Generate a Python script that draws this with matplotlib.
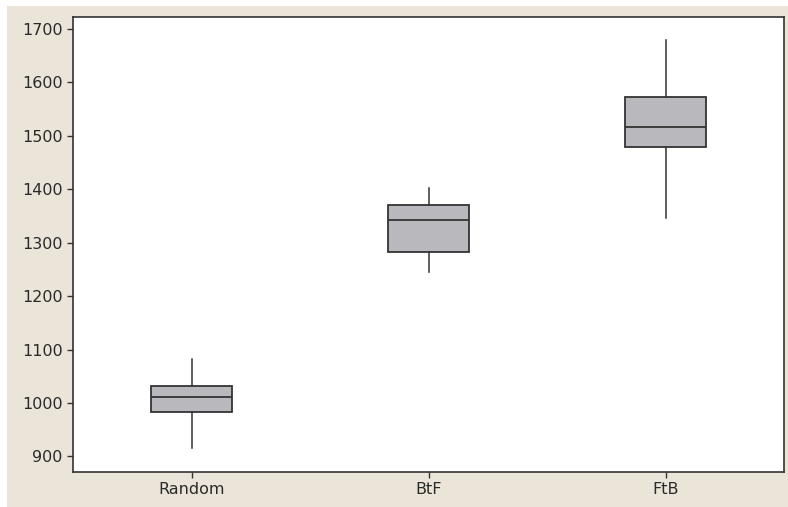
import matplotlib
matplotlib.use("Agg")
import matplotlib.pyplot as plt
from matplotlib.patches import Rectangle

categories = ["Random", "BtF", "FtB"]
whisker_low = [916, 1246, 1347]
q1 = [984, 1283, 1478]
median = [1011, 1342, 1517]
q3 = [1032, 1371, 1573]
whisker_high = [1083, 1402, 1679]
yticks = [900, 1000, 1100, 1200, 1300, 1400, 1500, 1600, 1700]

W, H = 788, 507
fig = plt.figure(figsize=(W / 100, H / 100), dpi=100, facecolor="white")
fig.patches.append(Rectangle((7 / W, 0), 1 - 7 / W, 1 - 6 / H, transform=fig.transFigure,
                             facecolor="#EBE5D9", edgecolor="none", zorder=-10))

ax = fig.add_axes([73 / W, 1 - 472 / H, (784 - 73) / W, (472 - 16.5) / H])
ax.set_facecolor("white")

stats = []
for i, c in enumerate(categories):
    stats.append(dict(label=c, whislo=whisker_low[i], q1=q1[i], med=median[i],
                      q3=q3[i], whishi=whisker_high[i], fliers=[]))

ax.bxp(stats, positions=[1, 2, 3], widths=0.34, patch_artist=True, showcaps=False,
       boxprops=dict(facecolor="#B9B9BD", edgecolor="#333333", linewidth=1.3),
       medianprops=dict(color="#333333", linewidth=1.3),
       whiskerprops=dict(color="#333333", linewidth=1.1))

ax.set_xlim(0.5, 3.5)
ax.set_ylim(871, 1723)
ax.set_yticks(yticks)
ax.set_yticklabels([str(t) for t in yticks])
for s in ax.spines.values():
    s.set_color("#333333")
    s.set_linewidth(1.2)
ax.tick_params(axis="both", colors="#333333", labelcolor="#2a2a2a", labelsize=11.5,
               length=4, width=1)
for lbl in ax.get_xticklabels() + ax.get_yticklabels():
    lbl.set_fontfamily("DejaVu Sans")

fig.savefig("out.png", dpi=100, facecolor=fig.get_facecolor())
